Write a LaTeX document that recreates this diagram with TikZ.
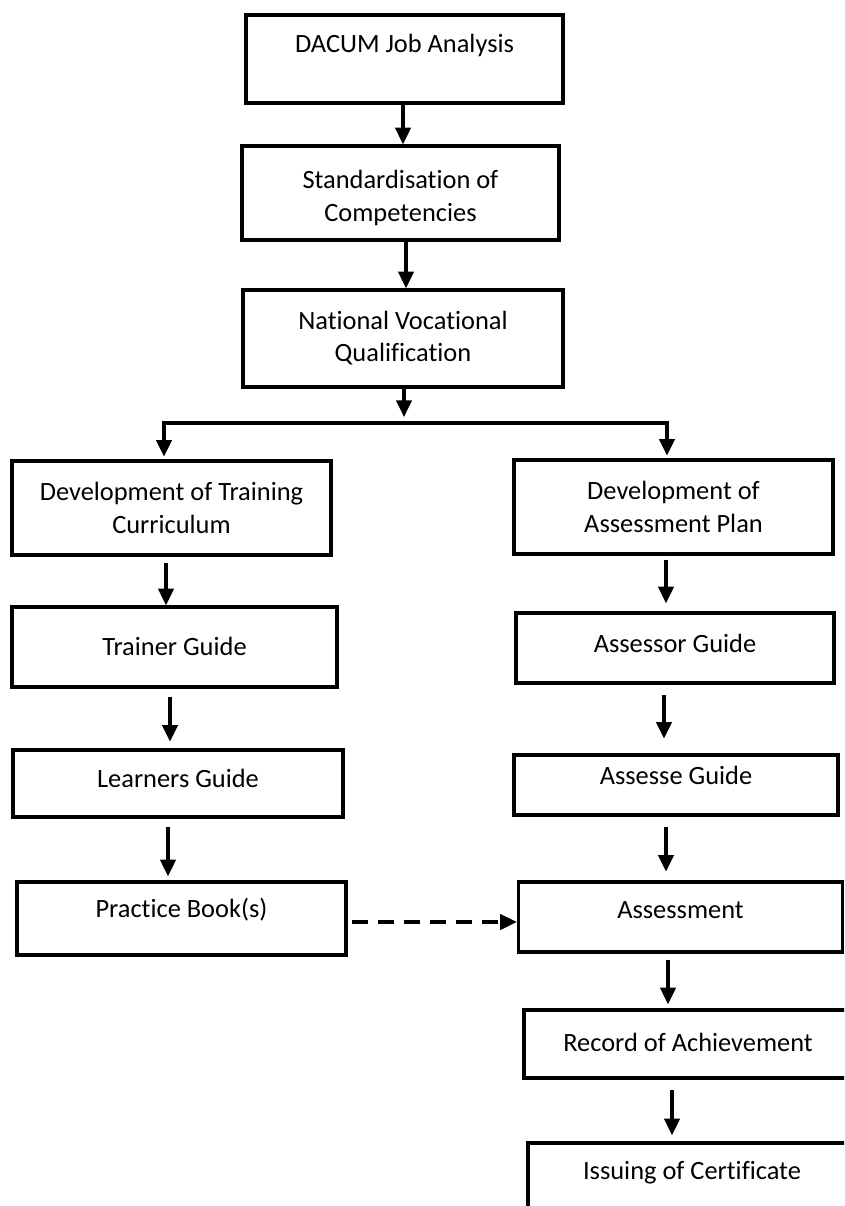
\documentclass[tikz,border=0pt]{standalone}
\usepackage{fontspec}
\setmainfont{Carlito}[Ligatures={NoCommon}]
\usetikzlibrary{arrows.meta}
\begin{document}
\begin{tikzpicture}[x=0.75pt,y=-0.75pt,
  box/.style={draw, line width=2.5pt, rectangle, inner sep=0pt},
  txt/.style={font=\fontsize{19.8}{24.5}\selectfont, align=center, inner sep=0pt},
  arr/.style={line width=2.4pt, -{Triangle[length=12.5pt,width=11.5pt]}},
  plain/.style={line width=2.4pt, line cap=rect},
  dasharr/.style={arr, dash pattern=on 12pt off 7.5pt}]
\fill[white] (0,0) rectangle (844,1206);
\useasboundingbox (0,0) rectangle (844,1206);
\clip (0,0) rectangle (844,1206);
% boxes
\node[box, minimum width=237.75pt, minimum height=66pt]    (dacum)      at (404.5,59)   {};
\node[box, minimum width=237.75pt, minimum height=70.5pt]  (std)        at (400.5,193)  {};
\node[box, minimum width=240pt,    minimum height=72.75pt] (nvq)        at (403,338.5)  {};
\node[box, minimum width=239.25pt, minimum height=70.5pt]  (devt)       at (171.5,508)  {};
\node[box, minimum width=239.25pt, minimum height=70.5pt]  (deva)       at (673.5,507)  {};
\node[box, minimum width=243.75pt, minimum height=60pt]    (trainer)    at (174.5,647)  {};
\node[box, minimum width=238.5pt,  minimum height=52.5pt]  (assessor)   at (675,648)    {};
\node[box, minimum width=247.5pt,  minimum height=50.25pt] (learners)   at (178,783.5)  {};
\node[box, minimum width=243pt,    minimum height=45pt]    (assesse)    at (676,785)    {};
\node[box, minimum width=246.75pt, minimum height=54.75pt] (practice)   at (181.5,918.5){};
\node[box, minimum width=243pt,    minimum height=52.5pt]  (assessment) at (680.5,917)  {};
\node[box, minimum width=246pt,    minimum height=51pt]    (record)     at (688,1044)   {};
\node[box, minimum width=246pt,    minimum height=65.25pt] (issuing)    at (692,1186.5) {};
% texts
\node[txt] (t1)  at (404.5,45)  {DACUM Job Analysis};
\node[txt] (t2)  at (400.5,198) {Standardisation of\\Competencies};
\node[txt] (t3)  at (403,338)   {National Vocational\\Qualification};
\node[txt] (t4)  at (171.5,508) {Development of Training\\Curriculum};
\node[txt] (t5)  at (673.5,507) {Development of\\Assessment Plan};
\node[txt] (t6)  at (174.5,646) {Trainer Guide};
\node[txt] (t7)  at (675,643)   {Assessor Guide};
\node[txt] (t8)  at (178,778)   {Learners Guide};
\node[txt] (t9)  at (676,775)   {Assesse Guide};
\node[txt] (t10) at (181.5,910) {Practice Book(s)};
\node[txt] (t11) at (680.5,910) {Assessment};
\node[txt] (t12) at (688,1042)  {Record of Achievement};
\node[txt] (t13) at (692,1173)  {Issuing of Certificate};
% top chain
\draw[arr] (403,0 |- dacum.south) -- (403,0 |- std.north);
\draw[arr] (406,0 |- std.south) -- (406,0 |- nvq.north);
% branch
\coordinate (bm) at (404,417);
\coordinate (bl) at (164,423);
\coordinate (br) at (667,423);
\draw[arr] (404,0 |- nvq.south) -- (bm);
\draw[plain] (bl) -- (br);
\draw[arr, shorten >=2pt] (bl) -- (bl |- devt.north);
\draw[arr, shorten >=2pt] (br) -- (br |- deva.north);
% left column
\draw[arr, shorten <=5pt] (166,0 |- devt.south) -- (166,0 |- trainer.north);
\draw[arr, shorten <=6pt, shorten >=5pt] (170,0 |- trainer.south) -- (170,0 |- learners.north);
\draw[arr, shorten <=6pt, shorten >=3pt] (168,0 |- learners.south) -- (168,0 |- practice.north);
% right column
\draw[arr, shorten <=3pt, shorten >=6pt] (666,0 |- deva.south) -- (666,0 |- assessor.north);
\draw[arr, shorten <=7.5pt, shorten >=11pt] (664,0 |- assessor.south) -- (664,0 |- assesse.north);
\draw[arr, shorten <=7.5pt, shorten >=6.5pt] (666,0 |- assesse.south) -- (666,0 |- assessment.north);
\draw[arr, shorten <=4.5pt, shorten >=3pt] (668,0 |- assessment.south) -- (668,0 |- record.north);
\draw[arr, shorten <=8pt, shorten >=4.5pt] (672,0 |- record.south) -- (672,0 |- issuing.north);
% dashed link
\draw[dasharr, shorten <=3pt] (practice.east |- 0,922) -- (assessment.west |- 0,922);
\end{tikzpicture}
\end{document}
